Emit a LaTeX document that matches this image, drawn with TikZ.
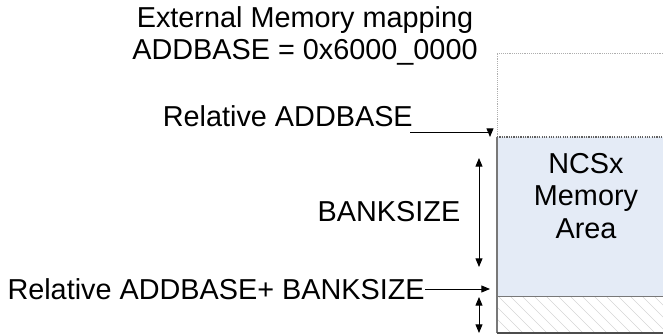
\documentclass[tikz,border=0pt]{standalone}
\usepackage{fontspec}
\setmainfont{Liberation Sans}
\usetikzlibrary{arrows.meta,positioning}
\definecolor{memblue}{RGB}{228,235,246}
\definecolor{edge}{RGB}{120,120,120}
\definecolor{hatch}{RGB}{214,214,214}
\tikzset{
  >={Triangle[length=2.6mm,width=2.1mm]},
  lbl/.style={font=\fontsize{24.6}{27.5}\selectfont,align=center,inner sep=0pt},
  dim/.style={<->,line width=0.8pt},
  lead/.style={->,line width=0.8pt},
  area/.style={fill=#1},
  area/.default=memblue,
}
\begin{document}
\begin{tikzpicture}[x=0.03cm,y=-0.03cm]
  \useasboundingbox (0,0) rectangle (663,335);
  % memory map column
  \fill[area] (497,137) rectangle (663,296);
  \begin{scope}
    \clip (497,296) rectangle (663,333);
    \foreach \x in {450,462,...,670}
      \draw[hatch,line width=0.5pt] (\x,296) -- ++(37,37);
  \end{scope}
  \draw[edge!60,densely dotted,line width=0.6pt] (497,137) -- (497,53) -- (663,53);
  \draw[edge!80!black,densely dotted,line width=1pt] (497,137) -- (663,137);
  \draw[edge,line width=1pt] (497,137) -- (497,333);
  \draw[edge,line width=0.8pt] (497,296) -- (663,296);
  \draw[black!70,line width=1pt] (497,333) -- (663,333);
  \coordinate (top) at (490,137);
  \coordinate (bot) at (490,296);
  % labels
  \node[lbl] (title) at (305,36) {External Memory mapping\\ADDBASE = 0x6000\_0000};
  \node[lbl,anchor=east] (reladd) at (413,116) {Relative ADDBASE};
  \node[lbl] (bank) at (389,212) {BANKSIZE};
  \node[lbl,anchor=east] (relend) at (425,289) {Relative ADDBASE+ BANKSIZE};
  \node[lbl] (ncs) at (586,196) {NCSx\\Memory\\Area};
  % leaders and dimensions
  \coordinate (ra) at (410,132);
  \draw[lead] (ra) -| (top);
  \draw[lead] (relend.east) -- (relend.east -| bot);
  \coordinate (b1) at (479,158);
  \coordinate (b2) at (479,267);
  \draw[dim] (b1) -- (b2);
  \coordinate (h1) at (479,297);
  \coordinate (h2) at (479,333);
  \draw[dim] (h1) -- (h2);
\end{tikzpicture}
\end{document}
